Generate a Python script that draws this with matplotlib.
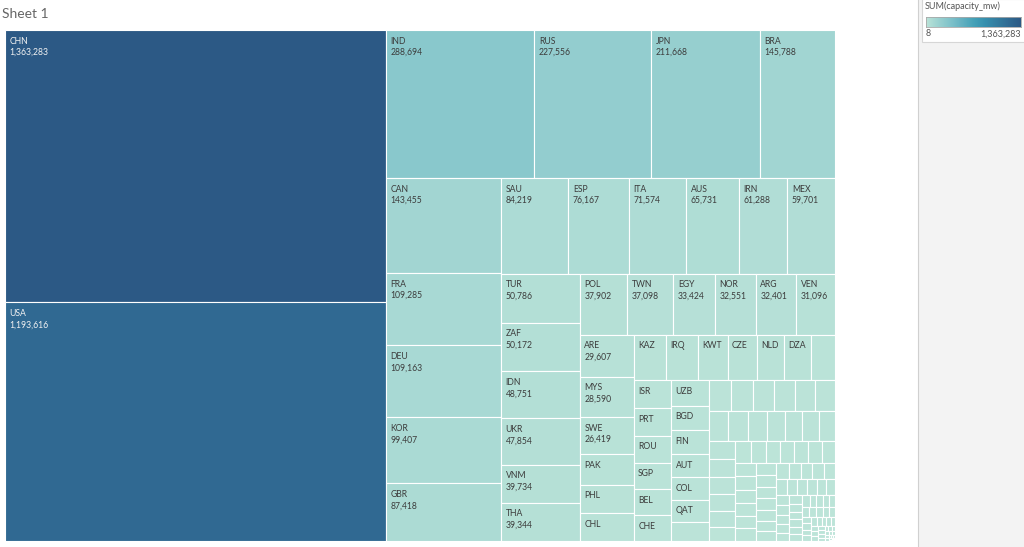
import matplotlib
matplotlib.use("Agg")
import matplotlib.pyplot as plt
from matplotlib.colors import LinearSegmentedColormap, to_rgb
from matplotlib.patches import Rectangle
import numpy as np

# ---------------- data (SUM(capacity_mw) by country) ----------------
countries = [
    "CHN", "USA", "IND", "RUS", "JPN", "BRA", "CAN", "FRA", "DEU", "KOR", "GBR",
    "SAU", "ESP", "ITA", "AUS", "IRN", "MEX", "TUR", "ZAF", "IDN", "UKR", "VNM",
    "THA", "POL", "TWN", "EGY", "NOR", "ARG", "VEN", "ARE", "MYS", "SWE",
    "PAK", "PHL", "CHL",
    "KAZ", "IRQ", "KWT", "CZE", "NLD", "DZA", "PER",
    "ISR", "PRT", "ROU", "SGP", "BEL", "CHE",
    "UZB", "BGD", "FIN", "AUT", "COL", "QAT", "NZL",
    "GRC", "HUN", "PRY", "MAR", "DNK", "OMN",
    "BGR", "SVK", "SRB", "IRL", "NGA", "LBY", "ECU",
    "BLR", "SYR", "PRK", "CUB", "AZE", "DOM",
    "TKM", "MMR", "LAO", "BIH", "HRV", "SVN", "LKA",
    "TJK", "KGZ", "TUN", "JOR", "URY", "ZMB",
    "LTU", "BOL", "KHM", "MOZ", "AGO", "ISL", "PAN",
    "GTM", "CRI", "ZWE", "EST", "COD",
    "GHA", "LBN", "TTO", "ETH", "KEN", "SDN",
    "BHR", "YEM", "LVA", "MKD", "LUX",
    "HND", "NPL", "CIV", "ALB", "CMR", "GEO",
    "CYP", "AFG", "TZA", "MNG", "ARM",
    "JAM", "SLV", "MDA", "NIC", "MNE",
    "MLT", "UGA", "NAM", "GAB", "SEN", "BWA", "COG", "MUS", "PNG", "MDG",
    "BRN", "GIN", "SUR", "FJI", "MLI", "MWI", "BEN", "BFA", "NER", "TGO",
    "RWA", "MRT", "GUY", "HTI", "BHS", "SLE", "LBR", "BTN", "ERI", "SWZ",
    "TCD", "BRB", "DJI", "LSO", "SOM", "ATA",
]
capacity_mw = [
    1363283, 1193616, 288694, 227556, 211668, 145788, 143455, 109285, 109163, 99407, 87418,
    84219, 76167, 71574, 65731, 61288, 59701, 50786, 50172, 48751, 47854, 39734,
    39344, 37902, 37098, 33424, 32551, 32401, 31096, 29607, 28590, 26419,
    21500, 19900, 19700,
    19500, 18900, 17900, 17800, 16100, 16000, 14600,
    13700, 13500, 13300, 13000, 12900, 12700,
    12600, 12100, 11900, 11300, 11200, 11100, 9300,
    8950, 8600, 8450, 8300, 7950, 7900,
    7700, 7550, 7450, 7100, 6800, 6550, 6400,
    6350, 6200, 5900, 5700, 5450, 4900,
    4750, 4200, 4150, 4100, 4050, 4000, 3800,
    3700, 3650, 3550, 3500, 3450, 3400,
    3350, 3250, 3100, 3050, 2950, 2800, 2750,
    2700, 2600, 2550, 2500, 2450,
    2300, 2150, 2100, 2000, 1950, 1900,
    1700, 1600, 1550, 1500, 1450,
    1420, 1360, 1300, 1280, 1250, 1220,
    1150, 1080, 1040, 1000, 950,
    900, 860, 820, 790, 760,
    750, 720, 690, 660, 620, 590, 560, 510, 480, 450,
    420, 400, 390, 360, 330, 300, 275, 250, 225, 200,
    180, 160, 140, 120, 100, 85, 70, 58, 47, 38,
    30, 24, 18, 14, 10, 8,
]

title_text = "Sheet 1"
legend_title = "SUM(capacity_mw)"

# Tableau "Blue-Teal" sequential palette
blue_teal = ["#bce4d8", "#aedcd5", "#a1d5d2", "#95cecf", "#89c8cc", "#7ec1ca",
             "#72bac6", "#66b2c2", "#59acbe", "#4ba5ba", "#419eb6", "#3b96b2",
             "#358ead", "#3586a7", "#347ea1", "#32779b", "#316f96", "#2f6790",
             "#2d608a", "#2c5985"]
cmap = LinearSegmentedColormap.from_list("blueteal", blue_teal)

# ---------------- squarified treemap (golden-ratio variant) ----------------
PHI = (1 + 5 ** 0.5) / 2


def squarify(values, x0, y0, x1, y1, ratio=PHI):
    n = len(values)
    rects = [None] * n
    i0 = i1 = 0
    remaining = float(sum(values))
    while i0 < n:
        dx, dy = x1 - x0, y1 - y0
        s = values[i1]
        i1 += 1
        vmin = vmax = s
        alpha = max(dy / dx, dx / dy) / (remaining * ratio)
        beta = s * s * alpha
        best = max(vmax / beta, beta / vmin)
        while i1 < n:
            v = values[i1]
            s2 = s + v
            mn, mx = min(vmin, v), max(vmax, v)
            beta = s2 * s2 * alpha
            r = max(mx / beta, beta / mn)
            if r > best:
                break
            s, vmin, vmax, best = s2, mn, mx, r
            i1 += 1
        idx = range(i0, i1)
        if dx < dy:  # horizontal row across the top
            h = dy * s / remaining
            xx = x0
            for i in idx:
                w = dx * values[i] / s
                rects[i] = (xx, y0, w, h)
                xx += w
            y0 += h
        else:  # vertical column on the left
            w = dx * s / remaining
            yy = y0
            for i in idx:
                h = dy * values[i] / s
                rects[i] = (x0, yy, w, h)
                yy += h
            x0 += w
        remaining -= s
        i0 = i1
    return rects


order = sorted(range(len(capacity_mw)), key=lambda i: -capacity_mw[i])
vals = [capacity_mw[i] for i in order]
names = [countries[i] for i in order]

# ---------------- figure ----------------
W, H = 1024, 547
fig = plt.figure(figsize=(W / 100, H / 100), dpi=100)
fig.patch.set_facecolor("white")

# right-hand panel (legend area)
fig.patches.append(Rectangle((918 / W, 0), (W - 918) / W, 1, transform=fig.transFigure,
                             facecolor="#f3f3f3", edgecolor="none", zorder=-2))
fig.lines.append(plt.Line2D([917.5 / W, 917.5 / W], [0, 1], transform=fig.transFigure,
                            color="#d0d0d0", lw=0.8, zorder=-1))
fig.patches.append(Rectangle((921.5 / W, 1 - 42 / H), (W - 921) / W, 43 / H,
                             transform=fig.transFigure, facecolor="white",
                             edgecolor="#d6d6d6", lw=0.8, zorder=-1))

# treemap area in pixel units
TL, TT, TW, TH = 5, 30, 830, 511
ax = fig.add_axes([TL / W, 1 - (TT + TH) / H, TW / W, TH / H])
ax.set_xlim(0, TW)
ax.set_ylim(TH, 0)
ax.axis("off")

rects = squarify(vals, 0, 0, TW, TH)
vmin_c, vmax_c = min(capacity_mw), max(capacity_mw)
font = "Lato"
for (x, y, w, h), name, v in zip(rects, names, vals):
    col = cmap((v - vmin_c) / (vmax_c - vmin_c))
    ax.add_patch(Rectangle((x, y), w, h, facecolor=col, edgecolor="white", lw=0.8))
    r, g, b = to_rgb(col)
    lum = 0.299 * r + 0.587 * g + 0.114 * b
    tc = "#f2f2f2" if lum < 0.55 else "#3c3c3c"
    if w >= 25.8 and h >= 21:
        ax.text(x + 4.5, y + 13.5, name, fontsize=6.2, family=font, color=tc,
                ha="left", va="baseline")
        if w >= 36 and h >= 35:
            ax.text(x + 4.5, y + 25.0, f"{v:,}", fontsize=6.2, family=font, color=tc,
                    ha="left", va="baseline")

# title
fig.text(2 / W, 1 - 17.5 / H, title_text, fontsize=10, family=font, color="#666666",
         ha="left", va="baseline")

# legend
fig.text(925 / W, 1 - 8.8 / H, legend_title, fontsize=6.5, family=font, color="#555555",
         ha="left", va="baseline", zorder=5)
cax = fig.add_axes([925.7 / W, 1 - 27.3 / H, 95 / W, 10 / H])
cax.set_zorder(5)
cax.imshow(np.linspace(0, 1, 256)[None, :], aspect="auto", cmap=cmap, extent=(0, 1, 0, 1))
cax.set_xticks([])
cax.set_yticks([])
for sp in cax.spines.values():
    sp.set_color("#a8a8a8")
    sp.set_linewidth(0.6)
fig.text(926 / W, 1 - 36.5 / H, f"{vmin_c:,}", fontsize=6.5, family=font, color="#555555",
         ha="left", va="baseline", zorder=5)
fig.text(1021 / W, 1 - 36.5 / H, f"{vmax_c:,}", fontsize=6.5, family=font, color="#555555",
         ha="right", va="baseline", zorder=5)

fig.savefig("out.png", dpi=100, facecolor="white")
